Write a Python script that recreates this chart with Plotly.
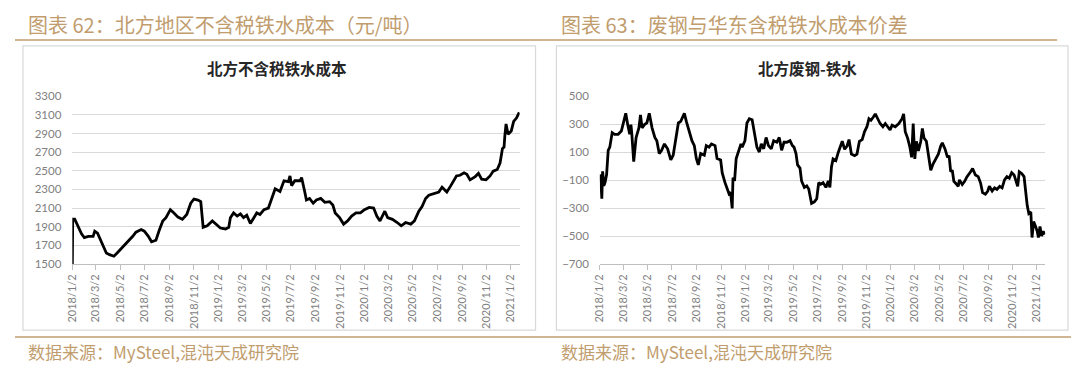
import plotly.graph_objects as go

# The page body keeps the browser's default 8px margin, so the figure is
# sized to fill the 1080x376 window exactly inside that margin.
PAGE_W, PAGE_H = 1080, 376
OFF = 8
W, H = PAGE_W - 2 * OFF, PAGE_H - 2 * OFF

# ---------------- data ----------------
north_dates = [
    "2018-01-02", "2018-01-03", "2018-01-08", "2018-01-15", "2018-01-25", "2018-02-01", "2018-02-11",
    "2018-02-23", "2018-02-27", "2018-03-06", "2018-03-14", "2018-03-22", "2018-03-28", "2018-04-05",
    "2018-04-16", "2018-04-24", "2018-05-04", "2018-05-17", "2018-05-25", "2018-06-02", "2018-06-10",
    "2018-06-23", "2018-07-01", "2018-07-11", "2018-07-19", "2018-07-30", "2018-08-07", "2018-08-16",
    "2018-08-24", "2018-09-04", "2018-09-13", "2018-09-23", "2018-10-04", "2018-10-15", "2018-10-25",
    "2018-11-02", "2018-11-12", "2018-11-19", "2018-11-25", "2018-12-05", "2018-12-18", "2018-12-28",
    "2019-01-07", "2019-01-20", "2019-01-28", "2019-02-01", "2019-02-09", "2019-02-18", "2019-02-26",
    "2019-03-06", "2019-03-14", "2019-03-23", "2019-03-31", "2019-04-08", "2019-04-16", "2019-04-26",
    "2019-05-07", "2019-05-15", "2019-05-24", "2019-06-05", "2019-06-15", "2019-06-26", "2019-06-30",
    "2019-07-04", "2019-07-12", "2019-07-25", "2019-07-29", "2019-08-06", "2019-08-10", "2019-08-18",
    "2019-08-27", "2019-09-04", "2019-09-15", "2019-09-25", "2019-10-07", "2019-10-15", "2019-10-21",
    "2019-11-01", "2019-11-11", "2019-11-21", "2019-12-01", "2019-12-12", "2019-12-23", "2020-01-02",
    "2020-01-14", "2020-01-25", "2020-02-02", "2020-02-10", "2020-02-22", "2020-02-29", "2020-03-12",
    "2020-03-24", "2020-04-03", "2020-04-14", "2020-04-27", "2020-05-06", "2020-05-17", "2020-05-25",
    "2020-06-03", "2020-06-11", "2020-06-23", "2020-07-06", "2020-07-14", "2020-07-26", "2020-08-05",
    "2020-08-19", "2020-08-28", "2020-09-07", "2020-09-14", "2020-09-22", "2020-10-05", "2020-10-13",
    "2020-10-21", "2020-11-01", "2020-11-11", "2020-11-19", "2020-11-29", "2020-12-06", "2020-12-12",
    "2020-12-16", "2020-12-18", "2020-12-21", "2020-12-26", "2021-01-03", "2021-01-09", "2021-01-16",
    "2021-01-23",
]
north_cost = [
    1500, 1980, 1980, 1910, 1824, 1783, 1797,
    1797, 1852, 1831, 1755, 1686, 1617, 1600,
    1583, 1617, 1662, 1728, 1755, 1797, 1841,
    1869, 1852, 1797, 1738, 1755, 1859, 1962,
    1997, 2083, 2048, 2003, 1979, 2031, 2152,
    2197, 2186, 2169, 1893, 1910, 1962, 1921,
    1886, 1876, 1893, 1997, 2048, 2014, 2038,
    1997, 2024, 1934, 1997, 2048, 2031, 2083,
    2100, 2203, 2307, 2279, 2393, 2383, 2445,
    2341, 2393, 2393, 2428, 2272, 2186, 2203,
    2152, 2186, 2203, 2162, 2169, 2134, 2048,
    1997, 1928, 1962, 2014, 2048, 2048, 2083,
    2107, 2100, 2014, 1962, 2066, 1997, 1979,
    1945, 1910, 1945, 1928, 1962, 2066, 2117,
    2203, 2238, 2255, 2272, 2324, 2272, 2341,
    2445, 2452, 2479, 2462, 2403, 2438, 2472,
    2410, 2403, 2445, 2497, 2514, 2583, 2738,
    2755, 2876, 3003, 2893, 2928, 3031, 3066,
    3128,
]

spread_dates = [
    "2018-01-02", "2018-01-04", "2018-01-07", "2018-01-09", "2018-01-12", "2018-01-15", "2018-01-19",
    "2018-01-23", "2018-01-27", "2018-02-02", "2018-02-08", "2018-02-17", "2018-02-25", "2018-03-03",
    "2018-03-08", "2018-03-13", "2018-03-18", "2018-03-21", "2018-03-23", "2018-03-28", "2018-03-30",
    "2018-04-03", "2018-04-10", "2018-04-14", "2018-04-18", "2018-04-24", "2018-04-30", "2018-05-06",
    "2018-05-13", "2018-05-20", "2018-05-25", "2018-05-31", "2018-06-06", "2018-06-13", "2018-06-21",
    "2018-06-29", "2018-07-05", "2018-07-12", "2018-07-18", "2018-07-24", "2018-08-02", "2018-08-07",
    "2018-08-14", "2018-08-21", "2018-08-27", "2018-09-01", "2018-09-06", "2018-09-12", "2018-09-21",
    "2018-09-26", "2018-10-03", "2018-10-09", "2018-10-18", "2018-10-23", "2018-11-01", "2018-11-05",
    "2018-11-12", "2018-11-17", "2018-11-22", "2018-11-26", "2018-11-30", "2018-12-02", "2018-12-06",
    "2018-12-10", "2018-12-17", "2018-12-22", "2018-12-25", "2019-01-01", "2019-01-06", "2019-01-12",
    "2019-01-19", "2019-01-25", "2019-01-31", "2019-02-06", "2019-02-11", "2019-02-17", "2019-02-23",
    "2019-03-01", "2019-03-08", "2019-03-14", "2019-03-22", "2019-03-28", "2019-04-03", "2019-04-09",
    "2019-04-16", "2019-04-24", "2019-04-30", "2019-05-04", "2019-05-09", "2019-05-13", "2019-05-19",
    "2019-05-23", "2019-05-30", "2019-06-05", "2019-06-10", "2019-06-17", "2019-06-24", "2019-06-30",
    "2019-07-05", "2019-07-10", "2019-07-16", "2019-07-23", "2019-07-29", "2019-08-02", "2019-08-06",
    "2019-08-10", "2019-08-17", "2019-08-23", "2019-08-29", "2019-09-02", "2019-09-08", "2019-09-14",
    "2019-09-19", "2019-09-25", "2019-10-03", "2019-10-09", "2019-10-15", "2019-10-22", "2019-10-28",
    "2019-11-03", "2019-11-08", "2019-11-13", "2019-11-19", "2019-11-24", "2019-11-30", "2019-12-06",
    "2019-12-13", "2019-12-19", "2019-12-25", "2019-12-31", "2020-01-05", "2020-01-13", "2020-01-22",
    "2020-01-30", "2020-02-03", "2020-02-07", "2020-02-13", "2020-02-19", "2020-02-23", "2020-02-27",
    "2020-03-02", "2020-03-06", "2020-03-11", "2020-03-17", "2020-03-21", "2020-03-25", "2020-03-31",
    "2020-04-05", "2020-04-11", "2020-04-17", "2020-04-23", "2020-04-30", "2020-05-06", "2020-05-10",
    "2020-05-17", "2020-05-23", "2020-05-27", "2020-05-31", "2020-06-04", "2020-06-08", "2020-06-12",
    "2020-06-19", "2020-06-22", "2020-06-29", "2020-07-05", "2020-07-11", "2020-07-20", "2020-07-25",
    "2020-08-01", "2020-08-08", "2020-08-14", "2020-08-19", "2020-08-26", "2020-09-01", "2020-09-05",
    "2020-09-12", "2020-09-18", "2020-09-24", "2020-10-01", "2020-10-07", "2020-10-13", "2020-10-19",
    "2020-10-25", "2020-10-31", "2020-11-06", "2020-11-11", "2020-11-15", "2020-11-19", "2020-11-25",
    "2020-12-01", "2020-12-05", "2020-12-09", "2020-12-13", "2020-12-18", "2020-12-21", "2020-12-25",
    "2020-12-30", "2021-01-03", "2021-01-06", "2021-01-10", "2021-01-14", "2021-01-18", "2021-01-22",
]
scrap_spread = [
    -106, -60, -233, -37, -141, -118, -60,
    113, 136, 240, 228, 228, 251, 332,
    378, 297, 228, 297, 240, 32, 90,
    205, 274, 366, 274, 297, 309, 378,
    274, 205, 182, 90, 113, 159, 124,
    44, 78, 205, 309, 320, 378, 320,
    251, 182, 147, 55, 9, 90, 78,
    147, 136, 159, 147, 55, 44, -48,
    -118, -164, -198, -187, -302, -83, -106,
    55, 124, 159, 136, 182, 309, 339,
    332, 240, 136, 101, 159, 124, 205,
    147, 124, 182, 171, 205, 113, 171,
    171, 182, 147, 136, 90, 9, -14,
    -106, -152, -141, -164, -267, -256, -233,
    -118, -129, -118, -152, -106, -152, -6,
    52, 40, 98, 144, 178, 121, 144,
    190, 86, 75, 86, 178, 190, 247,
    282, 339, 328, 351, 374, 339, 305,
    282, 305, 282, 259, 293, 282, 305,
    339, 374, 247, 201, 132, 63, 305,
    52, 178, 109, 178, 270, 201, 178,
    75, -29, 17, 52, 86, 144, 167,
    121, 63, 75, -40, -29, -109, -121,
    -144, -98, -132, -109, -75, -40, -17,
    -63, -75, -121, -190, -201, -178, -144,
    -178, -155, -167, -144, -155, -98, -75,
    -86, -47, -63, -109, -144, -40, -52,
    -75, -190, -282, -339, -328, -511, -397,
    -431, -466, -511, -431, -500, -466, -489,
]

tick_dates = [
    "2018-01-02", "2018-03-02", "2018-05-02", "2018-07-02", "2018-09-02", "2018-11-02",
    "2019-01-02", "2019-03-02", "2019-05-02", "2019-07-02", "2019-09-02", "2019-11-02",
    "2020-01-02", "2020-03-02", "2020-05-02", "2020-07-02", "2020-09-02", "2020-11-02",
    "2021-01-02",
]
tick_labels = [
    "2018/1/2", "2018/3/2", "2018/5/2", "2018/7/2", "2018/9/2", "2018/11/2",
    "2019/1/2", "2019/3/2", "2019/5/2", "2019/7/2", "2019/9/2", "2019/11/2",
    "2020/1/2", "2020/3/2", "2020/5/2", "2020/7/2", "2020/9/2", "2020/11/2",
    "2021/1/2",
]

headings = ["图表 62：北方地区不含税铁水成本（元/吨）", "图表 63：废钢与华东含税铁水成本价差"]
chart_titles = ["北方不含税铁水成本", "北方废钢-铁水"]
source_text = "数据来源：MySteel,混沌天成研究院"

# ---------------- styling ----------------
GOLD = "#c19d6e"
GRID = "#d9d9d9"
AXIS = "#bfbfbf"
TICKC = "#7f7f7f"
CJK = "Noto Sans CJK SC"
NUMF = "Lato, Open Sans, sans-serif"


def px(x):
    """window x pixel -> paper fraction"""
    return (x - OFF) / W


def py(y):
    """window y pixel (from top) -> paper fraction"""
    return 1 - (y - OFF) / H


fig = go.Figure()
fig.add_trace(go.Scatter(x=north_dates, y=north_cost, mode="lines",
                         line=dict(color="#000000", width=2.8), xaxis="x", yaxis="y",
                         showlegend=False, hoverinfo="x+y"))
fig.add_trace(go.Scatter(x=spread_dates, y=scrap_spread, mode="lines",
                         line=dict(color="#000000", width=2.8), xaxis="x2", yaxis="y2",
                         showlegend=False, hoverinfo="x+y"))

xcommon = dict(type="date", tickmode="array", tickvals=tick_dates, ticktext=tick_labels,
               tickangle=-90, showgrid=False, zeroline=False, showline=True,
               linecolor=AXIS, linewidth=1, ticks="outside", ticklen=5, tickcolor=AXIS,
               tickfont=dict(family=NUMF, size=11, color=TICKC))
ycommon = dict(tickmode="linear", dtick=200, showgrid=True, gridcolor=GRID, gridwidth=1,
               zeroline=False, showline=False, ticks="", ticklabelstandoff=10,
               tickfont=dict(family=NUMF, size=11.5, color=TICKC))

fig.update_layout(
    width=W, height=H, margin=dict(l=0, r=0, t=0, b=0),
    paper_bgcolor="white", plot_bgcolor="white",
    xaxis=dict(domain=[px(65.7), px(516)], range=["2018-01-02", "2021-01-24"],
               anchor="y", **xcommon),
    yaxis=dict(domain=[py(266.3), py(92.3)], range=[1500, 3300], tick0=1500,
               anchor="x", **ycommon),
    xaxis2=dict(domain=[px(596.7), px(1045)], range=["2018-01-02", "2021-01-23"],
                anchor="y2", **xcommon),
    yaxis2=dict(domain=[py(266.3), py(92.3)], range=[-700, 500], tick0=-700,
                anchor="x2", **ycommon),
)

shapes = []
# chart boxes
for (x0, x1) in [(16, 532), (553, 1068)]:
    shapes.append(dict(type="rect", xref="paper", yref="paper", x0=px(x0), x1=px(x1),
                       y0=py(335), y1=py(40), line=dict(color=GRID, width=1.2),
                       fillcolor="rgba(0,0,0,0)", layer="below"))
# gold rules
shapes.append(dict(type="line", xref="paper", yref="paper", x0=px(8), x1=px(1057),
                   y0=py(34), y1=py(34), line=dict(color=GOLD, width=1.5)))
shapes.append(dict(type="line", xref="paper", yref="paper", x0=px(8), x1=px(1071),
                   y0=py(342), y1=py(342), line=dict(color=GOLD, width=1.5)))
fig.update_layout(shapes=shapes)

ann = []
for txt, x in zip(headings, [19, 556]):
    ann.append(dict(text=txt, x=px(x), y=py(18), xref="paper", yref="paper",
                    xanchor="left", yanchor="middle", showarrow=False,
                    font=dict(family=CJK, size=20, color=GOLD)))
for txt, x in zip(chart_titles, [272, 806]):
    ann.append(dict(text="<b>" + txt + "</b>", x=px(x), y=py(63), xref="paper", yref="paper",
                    xanchor="center", yanchor="middle", showarrow=False,
                    font=dict(family=CJK, size=15.5, color="#262626")))
for x in [19, 556]:
    ann.append(dict(text=source_text, x=px(x), y=py(357), xref="paper", yref="paper",
                    xanchor="left", yanchor="middle", showarrow=False,
                    font=dict(family=CJK, size=17, color=GOLD)))
fig.update_layout(annotations=ann)

fig.write_html("out.html", config={"displayModeBar": False})
